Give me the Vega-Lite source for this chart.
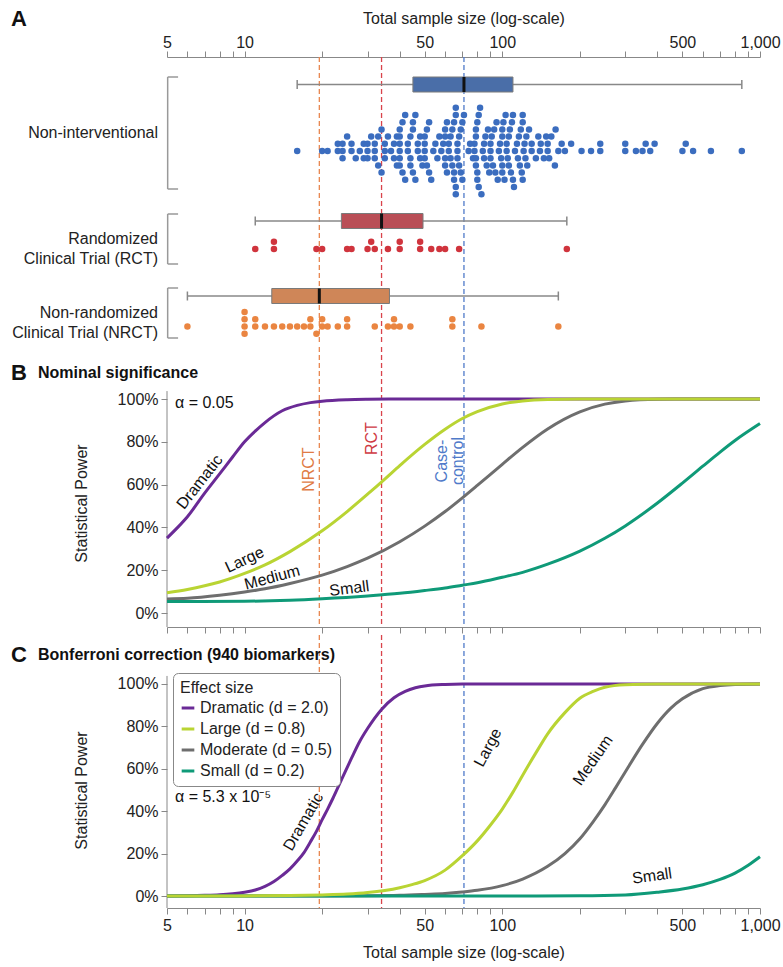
{
  "$schema": "https://vega.github.io/schema/vega-lite/v6.json",
  "padding": {"left": 11, "top": 8, "right": 5, "bottom": 4},
  "spacing": 0,
  "config": {
    "font": "Liberation Sans",
    "view": {"stroke": null},
    "axis": {"domainColor": "#888", "tickColor": "#888", "labelColor": "#222", "titleColor": "#222", "grid": false, "labelFontSize": 16, "titleFontSize": 16, "titleFontWeight": "normal", "tickSize": 6},
    "text": {"font": "Liberation Sans", "color": "#111"}
  },
  "resolve": {"scale": {"color": "independent", "x": "independent", "y": "independent"}, "legend": {"color": "independent"}},
  "datasets": {
    "groups": [
      {"group": "NI", "label": "Non-interventional"},
      {"group": "RCT", "label": "Randomized\nClinical Trial (RCT)"},
      {"group": "NRCT", "label": "Non-randomized\nClinical Trial (NRCT)"}
    ],
    "studies": [
      {"group": "NI", "n": 16},
      {"group": "NI", "n": 20}, {"group": "NI", "n": 21},
      {"group": "NI", "n": 23}, {"group": "NI", "n": 23}, {"group": "NI", "n": 24}, {"group": "NI", "n": 24}, {"group": "NI", "n": 24}, {"group": "NI", "n": 25},
      {"group": "NI", "n": 26}, {"group": "NI", "n": 26}, {"group": "NI", "n": 27},
      {"group": "NI", "n": 28}, {"group": "NI", "n": 29}, {"group": "NI", "n": 29},
      {"group": "NI", "n": 30}, {"group": "NI", "n": 30}, {"group": "NI", "n": 30}, {"group": "NI", "n": 31},
      {"group": "NI", "n": 32}, {"group": "NI", "n": 32}, {"group": "NI", "n": 32}, {"group": "NI", "n": 33}, {"group": "NI", "n": 33}, {"group": "NI", "n": 34},
      {"group": "NI", "n": 34}, {"group": "NI", "n": 35}, {"group": "NI", "n": 35}, {"group": "NI", "n": 35},
      {"group": "NI", "n": 36}, {"group": "NI", "n": 37}, {"group": "NI", "n": 38}, {"group": "NI", "n": 38}, {"group": "NI", "n": 39},
      {"group": "NI", "n": 39}, {"group": "NI", "n": 40}, {"group": "NI", "n": 40}, {"group": "NI", "n": 40}, {"group": "NI", "n": 40}, {"group": "NI", "n": 40}, {"group": "NI", "n": 40}, {"group": "NI", "n": 41}, {"group": "NI", "n": 41}, {"group": "NI", "n": 42}, {"group": "NI", "n": 42},
      {"group": "NI", "n": 43}, {"group": "NI", "n": 43}, {"group": "NI", "n": 44},
      {"group": "NI", "n": 44}, {"group": "NI", "n": 44}, {"group": "NI", "n": 45}, {"group": "NI", "n": 45}, {"group": "NI", "n": 45}, {"group": "NI", "n": 46},
      {"group": "NI", "n": 46}, {"group": "NI", "n": 47}, {"group": "NI", "n": 47}, {"group": "NI", "n": 48}, {"group": "NI", "n": 48},
      {"group": "NI", "n": 49}, {"group": "NI", "n": 50}, {"group": "NI", "n": 50}, {"group": "NI", "n": 50}, {"group": "NI", "n": 50}, {"group": "NI", "n": 51}, {"group": "NI", "n": 51}, {"group": "NI", "n": 52},
      {"group": "NI", "n": 52}, {"group": "NI", "n": 53}, {"group": "NI", "n": 54}, {"group": "NI", "n": 55},
      {"group": "NI", "n": 56}, {"group": "NI", "n": 57}, {"group": "NI", "n": 58},
      {"group": "NI", "n": 59}, {"group": "NI", "n": 60}, {"group": "NI", "n": 60}, {"group": "NI", "n": 60}, {"group": "NI", "n": 60}, {"group": "NI", "n": 61}, {"group": "NI", "n": 61}, {"group": "NI", "n": 62}, {"group": "NI", "n": 62},
      {"group": "NI", "n": 63}, {"group": "NI", "n": 63},
      {"group": "NI", "n": 64}, {"group": "NI", "n": 64}, {"group": "NI", "n": 65}, {"group": "NI", "n": 65}, {"group": "NI", "n": 65}, {"group": "NI", "n": 66}, {"group": "NI", "n": 66}, {"group": "NI", "n": 66}, {"group": "NI", "n": 66}, {"group": "NI", "n": 67}, {"group": "NI", "n": 67}, {"group": "NI", "n": 67}, {"group": "NI", "n": 68}, {"group": "NI", "n": 68},
      {"group": "NI", "n": 69}, {"group": "NI", "n": 69}, {"group": "NI", "n": 70}, {"group": "NI", "n": 70}, {"group": "NI", "n": 71},
      {"group": "NI", "n": 74}, {"group": "NI", "n": 75},
      {"group": "NI", "n": 77}, {"group": "NI", "n": 78}, {"group": "NI", "n": 78}, {"group": "NI", "n": 79}, {"group": "NI", "n": 79}, {"group": "NI", "n": 79}, {"group": "NI", "n": 79}, {"group": "NI", "n": 80}, {"group": "NI", "n": 80}, {"group": "NI", "n": 80}, {"group": "NI", "n": 81}, {"group": "NI", "n": 81}, {"group": "NI", "n": 82},
      {"group": "NI", "n": 83}, {"group": "NI", "n": 84}, {"group": "NI", "n": 85}, {"group": "NI", "n": 85}, {"group": "NI", "n": 86},
      {"group": "NI", "n": 87}, {"group": "NI", "n": 88}, {"group": "NI", "n": 89}, {"group": "NI", "n": 90}, {"group": "NI", "n": 90}, {"group": "NI", "n": 90}, {"group": "NI", "n": 91}, {"group": "NI", "n": 92},
      {"group": "NI", "n": 93}, {"group": "NI", "n": 94}, {"group": "NI", "n": 95}, {"group": "NI", "n": 96},
      {"group": "NI", "n": 97}, {"group": "NI", "n": 98}, {"group": "NI", "n": 99}, {"group": "NI", "n": 100}, {"group": "NI", "n": 100}, {"group": "NI", "n": 100}, {"group": "NI", "n": 100}, {"group": "NI", "n": 101}, {"group": "NI", "n": 102}, {"group": "NI", "n": 103},
      {"group": "NI", "n": 104}, {"group": "NI", "n": 104}, {"group": "NI", "n": 105}, {"group": "NI", "n": 106}, {"group": "NI", "n": 106},
      {"group": "NI", "n": 107}, {"group": "NI", "n": 108}, {"group": "NI", "n": 109}, {"group": "NI", "n": 110}, {"group": "NI", "n": 110}, {"group": "NI", "n": 111},
      {"group": "NI", "n": 112}, {"group": "NI", "n": 114}, {"group": "NI", "n": 115}, {"group": "NI", "n": 116},
      {"group": "NI", "n": 117}, {"group": "NI", "n": 118}, {"group": "NI", "n": 119}, {"group": "NI", "n": 120}, {"group": "NI", "n": 120}, {"group": "NI", "n": 120}, {"group": "NI", "n": 121}, {"group": "NI", "n": 122}, {"group": "NI", "n": 123}, {"group": "NI", "n": 124},
      {"group": "NI", "n": 125}, {"group": "NI", "n": 127}, {"group": "NI", "n": 130}, {"group": "NI", "n": 130},
      {"group": "NI", "n": 135}, {"group": "NI", "n": 138}, {"group": "NI", "n": 140}, {"group": "NI", "n": 141},
      {"group": "NI", "n": 145}, {"group": "NI", "n": 148}, {"group": "NI", "n": 150}, {"group": "NI", "n": 150}, {"group": "NI", "n": 152},
      {"group": "NI", "n": 155}, {"group": "NI", "n": 160}, {"group": "NI", "n": 161}, {"group": "NI", "n": 165},
      {"group": "NI", "n": 170}, {"group": "NI", "n": 175}, {"group": "NI", "n": 185},
      {"group": "NI", "n": 203}, {"group": "NI", "n": 221}, {"group": "NI", "n": 240}, {"group": "NI", "n": 240},
      {"group": "NI", "n": 300}, {"group": "NI", "n": 300}, {"group": "NI", "n": 330}, {"group": "NI", "n": 350}, {"group": "NI", "n": 360}, {"group": "NI", "n": 375}, {"group": "NI", "n": 390},
      {"group": "NI", "n": 500}, {"group": "NI", "n": 515}, {"group": "NI", "n": 550}, {"group": "NI", "n": 645}, {"group": "NI", "n": 850},
      {"group": "RCT", "n": 11}, {"group": "RCT", "n": 13}, {"group": "RCT", "n": 13}, {"group": "RCT", "n": 19}, {"group": "RCT", "n": 20},
      {"group": "RCT", "n": 25}, {"group": "RCT", "n": 26}, {"group": "RCT", "n": 30}, {"group": "RCT", "n": 31}, {"group": "RCT", "n": 32},
      {"group": "RCT", "n": 36}, {"group": "RCT", "n": 40}, {"group": "RCT", "n": 40}, {"group": "RCT", "n": 48}, {"group": "RCT", "n": 48},
      {"group": "RCT", "n": 53}, {"group": "RCT", "n": 57}, {"group": "RCT", "n": 60}, {"group": "RCT", "n": 68}, {"group": "RCT", "n": 178},
      {"group": "NRCT", "n": 6}, {"group": "NRCT", "n": 10}, {"group": "NRCT", "n": 10}, {"group": "NRCT", "n": 10}, {"group": "NRCT", "n": 10},
      {"group": "NRCT", "n": 11}, {"group": "NRCT", "n": 11}, {"group": "NRCT", "n": 12}, {"group": "NRCT", "n": 13}, {"group": "NRCT", "n": 14},
      {"group": "NRCT", "n": 15}, {"group": "NRCT", "n": 16}, {"group": "NRCT", "n": 17}, {"group": "NRCT", "n": 18}, {"group": "NRCT", "n": 18},
      {"group": "NRCT", "n": 19}, {"group": "NRCT", "n": 20}, {"group": "NRCT", "n": 20}, {"group": "NRCT", "n": 21}, {"group": "NRCT", "n": 23},
      {"group": "NRCT", "n": 25}, {"group": "NRCT", "n": 25}, {"group": "NRCT", "n": 32}, {"group": "NRCT", "n": 36}, {"group": "NRCT", "n": 38},
      {"group": "NRCT", "n": 38}, {"group": "NRCT", "n": 40}, {"group": "NRCT", "n": 44}, {"group": "NRCT", "n": 64}, {"group": "NRCT", "n": 64},
      {"group": "NRCT", "n": 83}, {"group": "NRCT", "n": 165}
    ],
    "powerB": [
      {"effect": "Dramatic", "n": 5, "power": 0.35}, {"effect": "Dramatic", "n": 5.5, "power": 0.4}, {"effect": "Dramatic", "n": 6, "power": 0.45},
      {"effect": "Dramatic", "n": 7, "power": 0.56}, {"effect": "Dramatic", "n": 8, "power": 0.65}, {"effect": "Dramatic", "n": 9, "power": 0.73},
      {"effect": "Dramatic", "n": 10, "power": 0.8}, {"effect": "Dramatic", "n": 11, "power": 0.85}, {"effect": "Dramatic", "n": 12, "power": 0.89},
      {"effect": "Dramatic", "n": 14, "power": 0.945}, {"effect": "Dramatic", "n": 16, "power": 0.97}, {"effect": "Dramatic", "n": 18, "power": 0.983},
      {"effect": "Dramatic", "n": 20, "power": 0.99}, {"effect": "Dramatic", "n": 25, "power": 0.997}, {"effect": "Dramatic", "n": 30, "power": 0.999},
      {"effect": "Dramatic", "n": 40, "power": 1}, {"effect": "Dramatic", "n": 60, "power": 1}, {"effect": "Dramatic", "n": 100, "power": 1},
      {"effect": "Dramatic", "n": 200, "power": 1}, {"effect": "Dramatic", "n": 500, "power": 1}, {"effect": "Dramatic", "n": 1000, "power": 1},
      {"effect": "Moderate", "n": 5, "power": 0.066}, {"effect": "Moderate", "n": 6, "power": 0.069}, {"effect": "Moderate", "n": 8, "power": 0.083},
      {"effect": "Moderate", "n": 10, "power": 0.098}, {"effect": "Moderate", "n": 12, "power": 0.113}, {"effect": "Moderate", "n": 15, "power": 0.138},
      {"effect": "Moderate", "n": 20, "power": 0.177}, {"effect": "Moderate", "n": 25, "power": 0.217}, {"effect": "Moderate", "n": 30, "power": 0.256},
      {"effect": "Moderate", "n": 40, "power": 0.333}, {"effect": "Moderate", "n": 50, "power": 0.406}, {"effect": "Moderate", "n": 60, "power": 0.474},
      {"effect": "Moderate", "n": 70, "power": 0.538}, {"effect": "Moderate", "n": 80, "power": 0.596}, {"effect": "Moderate", "n": 100, "power": 0.695},
      {"effect": "Moderate", "n": 120, "power": 0.774}, {"effect": "Moderate", "n": 150, "power": 0.86}, {"effect": "Moderate", "n": 200, "power": 0.94},
      {"effect": "Moderate", "n": 250, "power": 0.976}, {"effect": "Moderate", "n": 300, "power": 0.991}, {"effect": "Moderate", "n": 400, "power": 0.999},
      {"effect": "Moderate", "n": 500, "power": 1}, {"effect": "Moderate", "n": 1000, "power": 1},
      {"effect": "Small", "n": 5, "power": 0.054}, {"effect": "Small", "n": 10, "power": 0.055}, {"effect": "Small", "n": 15, "power": 0.06},
      {"effect": "Small", "n": 20, "power": 0.067}, {"effect": "Small", "n": 30, "power": 0.08}, {"effect": "Small", "n": 40, "power": 0.092},
      {"effect": "Small", "n": 50, "power": 0.105}, {"effect": "Small", "n": 60, "power": 0.117}, {"effect": "Small", "n": 70, "power": 0.13},
      {"effect": "Small", "n": 80, "power": 0.141}, {"effect": "Small", "n": 100, "power": 0.167}, {"effect": "Small", "n": 120, "power": 0.19},
      {"effect": "Small", "n": 150, "power": 0.228}, {"effect": "Small", "n": 200, "power": 0.289}, {"effect": "Small", "n": 250, "power": 0.349},
      {"effect": "Small", "n": 300, "power": 0.407}, {"effect": "Small", "n": 400, "power": 0.514}, {"effect": "Small", "n": 500, "power": 0.607},
      {"effect": "Small", "n": 600, "power": 0.686}, {"effect": "Small", "n": 700, "power": 0.752}, {"effect": "Small", "n": 800, "power": 0.806},
      {"effect": "Small", "n": 1000, "power": 0.885},
      {"effect": "Large", "n": 5, "power": 0.095}, {"effect": "Large", "n": 6, "power": 0.11}, {"effect": "Large", "n": 7, "power": 0.127},
      {"effect": "Large", "n": 8, "power": 0.145}, {"effect": "Large", "n": 10, "power": 0.185}, {"effect": "Large", "n": 12, "power": 0.225},
      {"effect": "Large", "n": 15, "power": 0.287}, {"effect": "Large", "n": 20, "power": 0.384}, {"effect": "Large", "n": 25, "power": 0.474},
      {"effect": "Large", "n": 30, "power": 0.555}, {"effect": "Large", "n": 35, "power": 0.626}, {"effect": "Large", "n": 40, "power": 0.689},
      {"effect": "Large", "n": 50, "power": 0.788}, {"effect": "Large", "n": 60, "power": 0.859}, {"effect": "Large", "n": 70, "power": 0.909},
      {"effect": "Large", "n": 80, "power": 0.941}, {"effect": "Large", "n": 100, "power": 0.977}, {"effect": "Large", "n": 120, "power": 0.991},
      {"effect": "Large", "n": 150, "power": 0.998}, {"effect": "Large", "n": 200, "power": 1}, {"effect": "Large", "n": 300, "power": 1},
      {"effect": "Large", "n": 500, "power": 1}, {"effect": "Large", "n": 1000, "power": 1}
    ],
    "powerC": [
      {"effect": "Dramatic", "n": 5, "power": 0}, {"effect": "Dramatic", "n": 6, "power": 0.001}, {"effect": "Dramatic", "n": 7, "power": 0.003},
      {"effect": "Dramatic", "n": 8, "power": 0.006}, {"effect": "Dramatic", "n": 9, "power": 0.011}, {"effect": "Dramatic", "n": 10, "power": 0.018},
      {"effect": "Dramatic", "n": 11, "power": 0.028}, {"effect": "Dramatic", "n": 12, "power": 0.045}, {"effect": "Dramatic", "n": 13, "power": 0.068},
      {"effect": "Dramatic", "n": 14, "power": 0.097}, {"effect": "Dramatic", "n": 15, "power": 0.128}, {"effect": "Dramatic", "n": 16, "power": 0.165},
      {"effect": "Dramatic", "n": 17, "power": 0.205}, {"effect": "Dramatic", "n": 18, "power": 0.255}, {"effect": "Dramatic", "n": 19, "power": 0.305},
      {"effect": "Dramatic", "n": 20, "power": 0.36}, {"effect": "Dramatic", "n": 21, "power": 0.41}, {"effect": "Dramatic", "n": 22, "power": 0.46},
      {"effect": "Dramatic", "n": 24, "power": 0.56}, {"effect": "Dramatic", "n": 26, "power": 0.65}, {"effect": "Dramatic", "n": 28, "power": 0.73},
      {"effect": "Dramatic", "n": 30, "power": 0.79}, {"effect": "Dramatic", "n": 34, "power": 0.88}, {"effect": "Dramatic", "n": 38, "power": 0.935},
      {"effect": "Dramatic", "n": 42, "power": 0.965}, {"effect": "Dramatic", "n": 46, "power": 0.982}, {"effect": "Dramatic", "n": 50, "power": 0.991},
      {"effect": "Dramatic", "n": 60, "power": 0.998}, {"effect": "Dramatic", "n": 70, "power": 1}, {"effect": "Dramatic", "n": 100, "power": 1},
      {"effect": "Dramatic", "n": 200, "power": 1}, {"effect": "Dramatic", "n": 500, "power": 1}, {"effect": "Dramatic", "n": 1000, "power": 1},
      {"effect": "Moderate", "n": 5, "power": 0}, {"effect": "Moderate", "n": 20, "power": 0.0003}, {"effect": "Moderate", "n": 30, "power": 0.001},
      {"effect": "Moderate", "n": 40, "power": 0.003}, {"effect": "Moderate", "n": 50, "power": 0.0075}, {"effect": "Moderate", "n": 60, "power": 0.012},
      {"effect": "Moderate", "n": 70, "power": 0.019}, {"effect": "Moderate", "n": 80, "power": 0.027}, {"effect": "Moderate", "n": 100, "power": 0.049},
      {"effect": "Moderate", "n": 120, "power": 0.08}, {"effect": "Moderate", "n": 150, "power": 0.14}, {"effect": "Moderate", "n": 175, "power": 0.2},
      {"effect": "Moderate", "n": 200, "power": 0.27}, {"effect": "Moderate", "n": 225, "power": 0.35}, {"effect": "Moderate", "n": 250, "power": 0.43},
      {"effect": "Moderate", "n": 275, "power": 0.51}, {"effect": "Moderate", "n": 300, "power": 0.585}, {"effect": "Moderate", "n": 350, "power": 0.715},
      {"effect": "Moderate", "n": 400, "power": 0.815}, {"effect": "Moderate", "n": 450, "power": 0.885}, {"effect": "Moderate", "n": 500, "power": 0.93},
      {"effect": "Moderate", "n": 600, "power": 0.978}, {"effect": "Moderate", "n": 700, "power": 0.993}, {"effect": "Moderate", "n": 800, "power": 0.998},
      {"effect": "Moderate", "n": 1000, "power": 1},
      {"effect": "Small", "n": 5, "power": 0}, {"effect": "Small", "n": 100, "power": 0.0002}, {"effect": "Small", "n": 200, "power": 0.001},
      {"effect": "Small", "n": 300, "power": 0.005}, {"effect": "Small", "n": 400, "power": 0.018}, {"effect": "Small", "n": 500, "power": 0.033},
      {"effect": "Small", "n": 600, "power": 0.053}, {"effect": "Small", "n": 700, "power": 0.078}, {"effect": "Small", "n": 800, "power": 0.108},
      {"effect": "Small", "n": 900, "power": 0.145}, {"effect": "Small", "n": 1000, "power": 0.185},
      {"effect": "Large", "n": 5, "power": 0}, {"effect": "Large", "n": 10, "power": 0.0005}, {"effect": "Large", "n": 15, "power": 0.002},
      {"effect": "Large", "n": 20, "power": 0.005}, {"effect": "Large", "n": 25, "power": 0.009}, {"effect": "Large", "n": 30, "power": 0.016},
      {"effect": "Large", "n": 35, "power": 0.026}, {"effect": "Large", "n": 40, "power": 0.039}, {"effect": "Large", "n": 45, "power": 0.055},
      {"effect": "Large", "n": 50, "power": 0.073}, {"effect": "Large", "n": 60, "power": 0.122}, {"effect": "Large", "n": 70, "power": 0.19},
      {"effect": "Large", "n": 80, "power": 0.26}, {"effect": "Large", "n": 90, "power": 0.335}, {"effect": "Large", "n": 100, "power": 0.41},
      {"effect": "Large", "n": 110, "power": 0.49}, {"effect": "Large", "n": 120, "power": 0.57}, {"effect": "Large", "n": 135, "power": 0.675},
      {"effect": "Large", "n": 150, "power": 0.765}, {"effect": "Large", "n": 175, "power": 0.865}, {"effect": "Large", "n": 200, "power": 0.933},
      {"effect": "Large", "n": 225, "power": 0.965}, {"effect": "Large", "n": 250, "power": 0.985}, {"effect": "Large", "n": 300, "power": 0.997},
      {"effect": "Large", "n": 400, "power": 1}, {"effect": "Large", "n": 600, "power": 1}, {"effect": "Large", "n": 1000, "power": 1}
    ]
  },
  "vconcat": [
    {
      "width": 593,
      "height": 288,
      "layer": [
        {
          "data": {"name": "studies"},
          "mark": {"type": "rule", "strokeDash": [5, 3], "strokeWidth": 1.3},
          "encoding": {
            "x": {"aggregate": "median", "field": "n", "type": "quantitative",
              "scale": {"type": "log", "domain": [5, 1000], "nice": false},
              "axis": {"orient": "top", "values": [5,6,7,8,9,10,20,30,40,50,60,70,80,90,100,200,300,400,500,600,700,800,900,1000], "format": ",", "labelExpr": "indexof([5,10,50,100,500,1000], datum.value) >= 0 ? datum.label : ''", "labelOverlap": false, "labelFlush": false, "labelPadding": 1, "titlePadding": 8, "title": "Total sample size (log-scale)"}},
            "stroke": {"field": "group", "type": "nominal", "scale": {"domain": ["NI", "RCT", "NRCT"], "range": ["#4f7ac9", "#d9434b", "#e8874f"]}, "legend": null}
          }
        },
        {
          "data": {"name": "groups"},
          "transform": [
            {"calculate": "datum.group === 'NI' ? 20 : datum.group === 'RCT' ? 157 : 231", "as": "top"},
            {"calculate": "datum.group === 'NI' ? 132 : datum.group === 'RCT' ? 207 : 281", "as": "bottom"},
            {"calculate": "(datum.top + datum.bottom) / 2", "as": "mid"}
          ],
          "layer": [
            {"mark": {"type": "rule", "color": "#999", "strokeWidth": 1.5},
              "encoding": {"x": {"datum": 5.03}, "y": {"field": "top", "type": "quantitative", "scale": {"domain": [0, 288], "reverse": true, "nice": false, "zero": false}, "axis": null}, "y2": {"field": "bottom"}}},
            {"mark": {"type": "rule", "color": "#999", "strokeWidth": 1.5},
              "encoding": {"x": {"datum": 5.03}, "x2": {"datum": 5.52}, "y": {"field": "top", "type": "quantitative", "axis": null}}},
            {"mark": {"type": "rule", "color": "#999", "strokeWidth": 1.5},
              "encoding": {"x": {"datum": 5.03}, "x2": {"datum": 5.52}, "y": {"field": "bottom", "type": "quantitative", "axis": null}}},
            {"mark": {"type": "text", "align": "right", "baseline": "middle", "dx": -9, "fontSize": 16, "lineHeight": 20, "lineBreak": "\n", "color": "#222"},
              "encoding": {"x": {"datum": 5}, "y": {"field": "mid", "type": "quantitative", "axis": null}, "text": {"field": "label"}}}
          ]
        },
        {
          "data": {"name": "studies"},
          "transform": [
            {"aggregate": [
              {"op": "min", "field": "n", "as": "lo"},
              {"op": "max", "field": "n", "as": "hi"},
              {"op": "q1", "field": "n", "as": "q1"},
              {"op": "median", "field": "n", "as": "med"},
              {"op": "q3", "field": "n", "as": "q3"}
            ], "groupby": ["group"]},
            {"calculate": "datum.group === 'NI' ? 27.5 : datum.group === 'RCT' ? 164 : 239", "as": "boxY"},
            {"calculate": "datum.boxY - 7.5", "as": "boxTop"},
            {"calculate": "datum.boxY + 7.5", "as": "boxBottom"},
            {"calculate": "datum.boxY - 4.5", "as": "capTop"},
            {"calculate": "datum.boxY + 4.5", "as": "capBottom"}
          ],
          "layer": [
            {"mark": {"type": "rule", "color": "#888", "strokeWidth": 1.5},
              "encoding": {"x": {"field": "lo", "type": "quantitative"}, "x2": {"field": "hi"}, "y": {"field": "boxY", "type": "quantitative", "axis": null}}},
            {"mark": {"type": "rule", "color": "#888", "strokeWidth": 1.5},
              "encoding": {"x": {"field": "lo", "type": "quantitative"}, "y": {"field": "capTop", "type": "quantitative", "axis": null}, "y2": {"field": "capBottom"}}},
            {"mark": {"type": "rule", "color": "#888", "strokeWidth": 1.5},
              "encoding": {"x": {"field": "hi", "type": "quantitative"}, "y": {"field": "capTop", "type": "quantitative", "axis": null}, "y2": {"field": "capBottom"}}},
            {"mark": {"type": "rect", "stroke": "#7a7a7a", "strokeWidth": 1},
              "encoding": {"x": {"field": "q1", "type": "quantitative"}, "x2": {"field": "q3"}, "y": {"field": "boxTop", "type": "quantitative", "axis": null}, "y2": {"field": "boxBottom"},
                "fill": {"field": "group", "type": "nominal", "scale": {"domain": ["NI", "RCT", "NRCT"], "range": ["#4a6ea8", "#b94e56", "#cf8658"]}, "legend": null}}},
            {"mark": {"type": "rule", "color": "#111", "strokeWidth": 3},
              "encoding": {"x": {"field": "med", "type": "quantitative"}, "y": {"field": "boxTop", "type": "quantitative", "axis": null}, "y2": {"field": "boxBottom"}}}
          ]
        },
        {
          "data": {"name": "studies"},
          "transform": [
            {"calculate": "floor(log(datum.n) / LN10 / 0.032)", "as": "bin"},
            {"window": [{"op": "row_number", "as": "rn"}], "groupby": ["group", "bin"], "sort": [{"field": "n", "order": "ascending"}]},
            {"calculate": "(datum.group === 'NI' ? 94 : datum.group === 'RCT' ? 192 : 269.5) + 7.2 * (datum.rn % 2 === 0 ? -datum.rn / 2 : (datum.rn - 1) / 2)", "as": "lane"}
          ],
          "mark": {"type": "circle", "size": 42, "opacity": 1},
          "encoding": {
            "x": {"field": "n", "type": "quantitative"},
            "y": {"field": "lane", "type": "quantitative", "axis": null},
            "color": {"field": "group", "type": "nominal", "scale": {"domain": ["NI", "RCT", "NRCT"], "range": ["#3b6dbf", "#d0343d", "#ea8541"]}, "legend": null}
          }
        },
        {
          "data": {"values": [{}]},
          "mark": {"type": "text", "text": "A", "fontSize": 22, "fontWeight": "bold", "align": "left", "baseline": "middle", "dx": -156},
          "encoding": {"x": {"datum": 5}, "y": {"datum": -38, "axis": null}}
        }
      ]
    },
    {
      "width": 593,
      "height": 280,
      "layer": [
        {
          "data": {"name": "studies"},
          "mark": {"type": "rule", "strokeDash": [5, 3], "strokeWidth": 1.3},
          "encoding": {
            "x": {"aggregate": "median", "field": "n", "type": "quantitative",
              "scale": {"type": "log", "domain": [5, 1000], "nice": false},
              "axis": {"orient": "bottom", "values": [5,6,7,8,9,10,20,30,40,50,60,70,80,90,100,200,300,400,500,600,700,800,900,1000], "labels": false, "title": null}},
            "stroke": {"field": "group", "type": "nominal", "legend": null}
          }
        },
        {
          "data": {"values": [{}]},
          "mark": {"type": "rule", "color": "#888", "strokeWidth": 1},
          "encoding": {"x": {"datum": 5}, "y": {"datum": -0.0654}, "y2": {"datum": 1.037}}
        },
        {
          "data": {"name": "powerB"},
          "mark": {"type": "line", "strokeWidth": 3, "interpolate": "monotone"},
          "encoding": {
            "x": {"field": "n", "type": "quantitative"},
            "y": {"field": "power", "type": "quantitative",
              "scale": {"domain": [-0.0654, 1.243], "nice": false, "zero": false},
              "axis": {"values": [0, 0.2, 0.4, 0.6, 0.8, 1], "format": ".0%", "domain": false, "title": "Statistical Power", "titlePadding": 28, "titleY": 156, "labelPadding": 3}},
            "color": {"field": "effect", "type": "nominal", "scale": {"domain": ["Dramatic", "Large", "Moderate", "Small"], "range": ["#6a2a96", "#b9d433", "#6e6e6e", "#0f9a78"]}, "legend": null}
          }
        },
        {"data": {"values": [{}]}, "mark": {"type": "text", "text": "B", "fontSize": 22, "fontWeight": "bold", "align": "left", "baseline": "middle", "dx": -156}, "encoding": {"x": {"datum": 5}, "y": {"datum": 1.1215}}},
        {"data": {"values": [{}]}, "mark": {"type": "text", "text": "Nominal significance", "fontSize": 16, "fontWeight": "bold", "align": "left", "baseline": "middle", "dx": -129}, "encoding": {"x": {"datum": 5}, "y": {"datum": 1.1215}}},
        {"data": {"values": [{}]}, "mark": {"type": "text", "text": "α = 0.05", "fontSize": 16, "align": "left", "baseline": "middle"}, "encoding": {"x": {"datum": 5.37}, "y": {"datum": 0.981}}},
        {"data": {"values": [{}]}, "mark": {"type": "text", "text": "Dramatic", "fontSize": 16, "angle": -52}, "encoding": {"x": {"datum": 6.7}, "y": {"datum": 0.612}}},
        {"data": {"values": [{}]}, "mark": {"type": "text", "text": "Large", "fontSize": 16, "angle": -25}, "encoding": {"x": {"datum": 10}, "y": {"datum": 0.248}}},
        {"data": {"values": [{}]}, "mark": {"type": "text", "text": "Medium", "fontSize": 16, "angle": -15}, "encoding": {"x": {"datum": 12.8}, "y": {"datum": 0.166}}},
        {"data": {"values": [{}]}, "mark": {"type": "text", "text": "Small", "fontSize": 16, "angle": -7}, "encoding": {"x": {"datum": 25.5}, "y": {"datum": 0.114}}},
        {"data": {"values": [{}]}, "mark": {"type": "text", "text": "NRCT", "fontSize": 16, "angle": -90, "baseline": "bottom", "dy": -2, "color": "#e07b45"}, "encoding": {"x": {"datum": 19.5}, "y": {"datum": 0.67}}},
        {"data": {"values": [{}]}, "mark": {"type": "text", "text": "RCT", "fontSize": 16, "angle": -90, "baseline": "bottom", "dy": -2, "color": "#cf3a43"}, "encoding": {"x": {"datum": 34}, "y": {"datum": 0.815}}},
        {"data": {"values": [{}]}, "mark": {"type": "text", "text": "Case-\ncontrol", "lineBreak": "\n", "lineHeight": 16, "fontSize": 16, "angle": -90, "baseline": "bottom", "dy": -12, "color": "#4f7ac9"}, "encoding": {"x": {"datum": 70}, "y": {"datum": 0.71}}}
      ]
    },
    {
      "width": 593,
      "height": 273,
      "layer": [
        {
          "data": {"name": "studies"},
          "mark": {"type": "rule", "strokeDash": [5, 3], "strokeWidth": 1.3},
          "encoding": {
            "x": {"aggregate": "median", "field": "n", "type": "quantitative",
              "scale": {"type": "log", "domain": [5, 1000], "nice": false},
              "axis": {"orient": "bottom", "values": [5,6,7,8,9,10,20,30,40,50,60,70,80,90,100,200,300,400,500,600,700,800,900,1000], "format": ",", "labelExpr": "indexof([5,10,50,100,500,1000], datum.value) >= 0 ? datum.label : ''", "labelOverlap": false, "labelFlush": false, "labelPadding": 3, "titlePadding": 11, "title": "Total sample size (log-scale)"}},
            "stroke": {"field": "group", "type": "nominal", "legend": null}
          }
        },
        {
          "data": {"values": [{}]},
          "mark": {"type": "rule", "color": "#888", "strokeWidth": 1},
          "encoding": {"x": {"datum": 5}, "y": {"datum": -0.0566}, "y2": {"datum": 1.038}}
        },
        {
          "data": {"name": "powerC"},
          "mark": {"type": "line", "strokeWidth": 3, "interpolate": "monotone"},
          "encoding": {
            "x": {"field": "n", "type": "quantitative"},
            "y": {"field": "power", "type": "quantitative",
              "scale": {"domain": [-0.0566, 1.2311], "nice": false, "zero": false},
              "axis": {"values": [0, 0.2, 0.4, 0.6, 0.8, 1], "format": ".0%", "domain": false, "title": "Statistical Power", "titlePadding": 28, "titleY": 155, "labelPadding": 3}},
            "color": {"field": "effect", "type": "nominal", "scale": {"domain": ["Dramatic", "Large", "Moderate", "Small"], "range": ["#6a2a96", "#b9d433", "#6e6e6e", "#0f9a78"]},
              "legend": {"orient": "none", "legendX": 6, "legendY": 38, "title": "Effect size", "titleFontSize": 16, "titleFontWeight": "normal", "titleColor": "#222", "titlePadding": 4, "labelFontSize": 16, "labelColor": "#222", "symbolType": "stroke", "symbolStrokeWidth": 3, "symbolSize": 160, "strokeColor": "#888", "fillColor": "white", "padding": 7, "cornerRadius": 5, "rowPadding": 5,
                "labelExpr": "datum.label === 'Dramatic' ? 'Dramatic (d = 2.0)' : datum.label === 'Large' ? 'Large (d = 0.8)' : datum.label === 'Moderate' ? 'Moderate (d = 0.5)' : 'Small (d = 0.2)'"}}
          }
        },
        {"data": {"values": [{}]}, "mark": {"type": "text", "text": "C", "fontSize": 22, "fontWeight": "bold", "align": "left", "baseline": "middle", "dx": -156}, "encoding": {"x": {"datum": 5}, "y": {"datum": 1.137}}},
        {"data": {"values": [{}]}, "mark": {"type": "text", "text": "Bonferroni correction (940 biomarkers)", "fontSize": 16, "fontWeight": "bold", "align": "left", "baseline": "middle", "dx": -129}, "encoding": {"x": {"datum": 5}, "y": {"datum": 1.137}}},
        {"data": {"values": [{}]}, "mark": {"type": "text", "text": "α = 5.3 x 10⁻⁵", "fontSize": 16, "align": "left", "baseline": "middle"}, "encoding": {"x": {"datum": 5.37}, "y": {"datum": 0.467}}},
        {"data": {"values": [{}]}, "mark": {"type": "text", "text": "Dramatic", "fontSize": 16, "angle": -60}, "encoding": {"x": {"datum": 16.9}, "y": {"datum": 0.35}}},
        {"data": {"values": [{}]}, "mark": {"type": "text", "text": "Large", "fontSize": 16, "angle": -62}, "encoding": {"x": {"datum": 88}, "y": {"datum": 0.7}}},
        {"data": {"values": [{}]}, "mark": {"type": "text", "text": "Medium", "fontSize": 16, "angle": -55}, "encoding": {"x": {"datum": 225}, "y": {"datum": 0.64}}},
        {"data": {"values": [{}]}, "mark": {"type": "text", "text": "Small", "fontSize": 16, "angle": -8}, "encoding": {"x": {"datum": 381}, "y": {"datum": 0.094}}}
      ]
    }
  ]
}
